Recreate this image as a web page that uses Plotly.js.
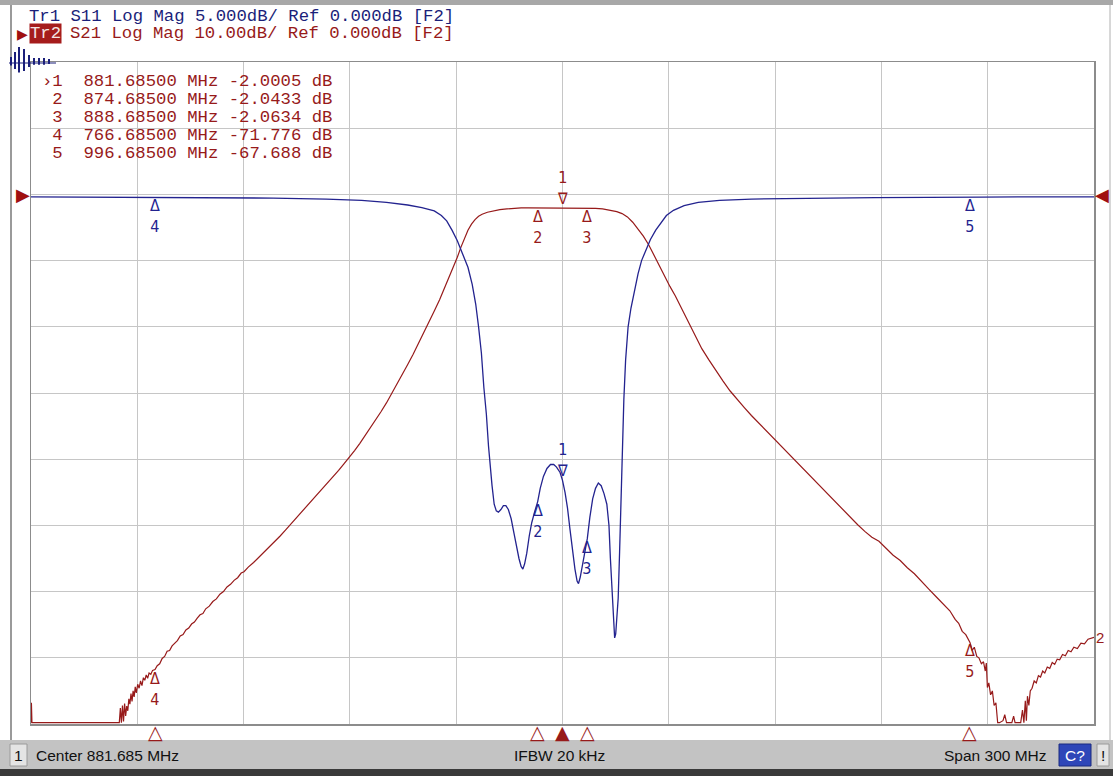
<!DOCTYPE html>
<html>
<head>
<meta charset="utf-8">
<script src="https://cdn.plot.ly/plotly-3.0.1.min.js"></script>
<style>
html,body{margin:0;padding:0;background:#fff;}
#chart{width:1113px;height:776px;}
</style>
</head>
<body>
<div id="chart"></div>
<script>
// ---------------- DATA ----------------
const centerMHz = 881.685;
const spanMHz = 300;
const startMHz = centerMHz - spanMHz / 2;
const stopMHz = centerMHz + spanMHz / 2;

// S21 (Tr2), dB, 10 dB/div
const s21Freq = [731.685,731.8,731.95,756.6,756.9,757.2,757.5,757.8,758.1,758.4,758.7,759.0,759.3,759.6,759.9,760.2,760.5,760.8,761.1,761.4,761.8,762.2,762.6,763.0,763.4,763.8,764.2,764.6,765.0,765.5,766.0,766.685,767.3,768.0,768.7,769.4,770.1,770.8,771.5,772.2,773.0,773.8,774.6,775.4,776.2,777.0,777.8,778.6,779.4,780.2,781.0,782.0,783.0,784.0,785.0,786.0,787.0,788.0,789.0,790.0,791.0,791.8,793.0,794.5,796.0,797.5,799.0,800.5,802.0,803.5,805.0,806.5,808.0,809.5,811.0,812.5,814.0,815.5,817.0,818.5,820.0,821.7,823.0,824.5,826.0,827.5,829.0,830.5,832.0,833.5,835.0,836.5,838.0,839.5,841.0,842.5,844.0,845.5,847.0,848.5,850.0,851.0,852.0,853.0,854.0,855.0,856.0,857.0,858.0,859.0,860.5,862.0,864.0,866.0,868.0,870.0,872.0,874.685,877.0,879.0,881.685,884.0,886.0,888.685,891.0,893.0,895.0,897.0,898.5,900.0,901.5,903.0,904.5,906.0,907.5,909.0,910.5,912.0,913.5,915.0,917.0,919.0,921.0,923.0,925.0,927.0,929.0,931.0,933.0,935.0,937.0,939.0,941.0,943.0,945.0,947.0,949.0,951.0,953.0,955.0,957.0,959.0,961.0,963.0,965.0,967.0,969.0,971.0,973.0,975.0,977.0,979.0,981.0,983.0,985.0,987.0,989.0,991.0,992.5,993.5,994.5,995.5,996.685,997.3,997.9,998.6,999.2,999.9,1000.5,1001.0,1001.3,1001.6,1002.0,1002.5,1003.0,1003.5,1004.0,1004.5,1005.0,1006.0,1006.5,1007.0,1008.5,1009.0,1009.4,1011.0,1011.5,1011.9,1012.3,1012.6,1012.9,1013.3,1013.7,1014.2,1014.8,1015.4,1016.0,1016.6,1017.2,1017.8,1018.5,1019.2,1019.9,1020.6,1021.3,1022.0,1022.8,1023.6,1024.4,1025.2,1026.0,1027.0,1028.0,1029.0,1030.0,1031.685];
const s21dB = [-79.8,-76.8,-79.8,-79.8,-77.6,-79.8,-77.2,-79.6,-76.9,-78.8,-77.3,-78.0,-76.2,-77.0,-75.4,-76.6,-75.0,-75.9,-74.4,-75.3,-74.0,-74.6,-73.5,-74.2,-73.0,-73.4,-72.6,-73.1,-72.3,-72.5,-71.9,-71.78,-71.2,-70.9,-70.1,-69.8,-69.0,-68.9,-68.2,-67.8,-67.4,-66.7,-66.5,-65.8,-65.5,-64.9,-64.6,-64.0,-63.5,-63.3,-62.6,-62.2,-61.5,-61.1,-60.4,-60.0,-59.3,-58.9,-58.3,-57.9,-57.2,-57.0,-56.3,-55.6,-54.8,-54.1,-53.2,-52.5,-51.6,-50.7,-49.8,-48.9,-48.0,-47.2,-46.2,-45.4,-44.4,-43.6,-42.6,-41.7,-40.7,-39.6,-38.7,-37.6,-36.4,-35.3,-34.0,-32.8,-31.5,-30.1,-28.7,-27.2,-25.7,-24.2,-22.6,-21.0,-19.3,-17.6,-15.9,-14.0,-12.2,-11.0,-9.5,-8.0,-6.6,-5.4,-4.5,-3.8,-3.3,-3.0,-2.7,-2.5,-2.3,-2.2,-2.1,-2.05,-2.04,-2.0433,-2.02,-2.0,-2.0005,-2.01,-2.03,-2.0634,-2.1,-2.2,-2.35,-2.6,-2.9,-3.4,-4.2,-5.2,-6.3,-7.6,-9.2,-10.8,-12.3,-13.9,-15.3,-16.9,-19.2,-21.4,-23.3,-25.0,-26.7,-28.2,-29.7,-31.0,-32.2,-33.4,-34.5,-35.6,-36.7,-37.8,-39.0,-40.1,-41.2,-42.3,-43.4,-44.4,-45.6,-46.7,-47.7,-48.8,-49.9,-50.9,-51.8,-52.4,-53.4,-54.5,-55.3,-56.4,-57.3,-58.5,-59.6,-60.7,-61.8,-62.9,-64.2,-64.8,-66.0,-66.5,-67.688,-68.9,-68.4,-69.8,-70.0,-70.9,-70.6,-72.0,-70.8,-74.5,-73.8,-75.6,-75.0,-77.2,-76.8,-79.8,-79.8,-79.5,-78.6,-79.8,-79.8,-78.8,-79.8,-79.8,-77.9,-79.8,-76.5,-79.5,-75.8,-77.2,-75.0,-74.6,-73.5,-73.8,-72.7,-72.9,-72.0,-72.3,-71.4,-71.6,-70.7,-71.0,-70.2,-70.3,-69.5,-69.7,-68.9,-69.1,-68.4,-68.6,-67.8,-67.9,-67.2,-66.9];

// S11 (Tr1), dB, 5 dB/div
const s11Freq = [731.685,760,780,800,815,825,832,838,842,845.5,847.5,849,850.5,852,853.5,855,856.2,857.2,858.0,858.8,859.5,860.2,860.8,861.3,861.8,862.4,863.0,863.6,864.3,865.0,865.7,866.4,867.2,868.0,868.7,869.4,870.0,870.5,871.0,871.6,872.3,873.0,873.8,874.685,875.4,876.3,877.3,878.3,879.2,880.0,881.0,881.685,882.4,883.1,883.8,884.5,885.2,885.8,886.2,886.7,887.3,888.0,888.685,889.4,890.2,891.0,891.8,892.6,893.4,894.2,894.8,895.2,895.6,896.0,896.4,896.7,897.0,897.4,897.8,898.2,898.6,899.0,899.5,900.2,901.0,902.0,903.0,904.0,905.0,906.5,908.0,909.5,911.0,913.0,916.0,920.0,926.0,935.0,950.0,970.0,1000.0,1031.685];
const s11dB = [-0.18,-0.2,-0.22,-0.28,-0.36,-0.45,-0.6,-0.8,-1.0,-1.25,-1.6,-2.0,-2.7,-3.5,-4.5,-5.5,-6.8,-8.3,-10.0,-12.0,-14.6,-16.6,-19.0,-20.6,-22.0,-23.4,-23.9,-24.0,-23.8,-23.5,-23.5,-23.8,-24.5,-25.6,-26.6,-27.5,-28.1,-28.3,-27.9,-27.1,-25.8,-24.8,-24.0,-23.2,-22.2,-21.3,-20.7,-20.4,-20.4,-20.6,-21.0,-21.6,-22.5,-23.7,-25.3,-26.9,-28.3,-29.2,-29.4,-28.9,-28.0,-27.0,-26.0,-24.4,-23.0,-22.2,-21.8,-22.0,-22.6,-23.4,-25.0,-27.5,-29.8,-32.0,-33.5,-33.2,-31.8,-30.5,-27.0,-23.0,-19.0,-15.5,-12.5,-10.0,-8.6,-7.2,-6.0,-5.0,-4.3,-3.4,-2.7,-2.1,-1.6,-1.2,-0.85,-0.6,-0.45,-0.35,-0.28,-0.24,-0.2,-0.18];

// Markers
const markerIds = ["1","2","3","4","5"];
const markerFreq = [881.685, 874.685, 888.685, 766.685, 996.685];
const markerS21 = [-2.0005, -2.0433, -2.0634, -71.776, -67.688];
const markerS11 = [-21.6, -23.2, -26.0, -0.2, -0.22];
const markerTableFreq = ["881.68500","874.68500","888.68500","766.68500","996.68500"];
const markerTableVal = ["-2.0005","-2.0433","-2.0634","-71.776","-67.688"];

const headerTr1 = "Tr1 S11 Log Mag 5.000dB/ Ref 0.000dB [F2]";
const headerTr2 = "S21 Log Mag 10.00dB/ Ref 0.000dB [F2]";
const statusCenter = "Center 881.685 MHz";
const statusIFBW = "IFBW 20 kHz";
const statusSpan = "Span 300 MHz";

// ---------------- STYLE ----------------
const W = 1113, H = 776;
const L = 31, R = 1094, T = 62, B = 724;
const PW = R - L, PH = B - T;
const px = x => (x - L) / PW;
const py = y => (B - y) / PH;
const BLUE = "#23238f";
const RED = "#971a1a";
const NAVY = "#1b1f7a";
const MONO = "Liberation Mono, DejaVu Sans Mono, monospace";
const SANS = "Liberation Sans, Arial, sans-serif";
const SYM = "DejaVu Sans, sans-serif";
const MK = "DejaVu Sans Condensed, DejaVu Sans, sans-serif";
const TXT = 17.3;

const traces = [
  {x: s11Freq, y: s11dB, yaxis: "y2", mode: "lines", line: {color: BLUE, width: 1.3}, hoverinfo: "skip"},
  {x: s21Freq, y: s21dB, yaxis: "y", mode: "lines", line: {color: RED, width: 1.2}, hoverinfo: "skip"}
];

const ann = [];
// header
ann.push({xref: "paper", yref: "paper", x: px(27), y: py(16), xanchor: "left", yanchor: "middle", showarrow: false,
  text: headerTr1, font: {family: MONO, size: TXT, color: NAVY}});
ann.push({xref: "paper", yref: "paper", x: px(29), y: py(34), xanchor: "left", yanchor: "middle", showarrow: false,
  text: "Tr2", bgcolor: "#a51c1c", borderpad: 0, font: {family: MONO, size: TXT, color: "#f4e4e4"}});
ann.push({xref: "paper", yref: "paper", x: px(68), y: py(34), xanchor: "left", yanchor: "middle", showarrow: false,
  text: headerTr2, font: {family: MONO, size: TXT, color: RED}});
ann.push({xref: "paper", yref: "paper", x: px(15), y: py(34), xanchor: "left", yanchor: "middle", showarrow: false,
  text: "▶", font: {family: SYM, size: 14, color: "#a01010"}});

// marker table
const rowY = [82, 99.5, 117, 135, 153];
for (let i = 0; i < markerIds.length; i++) {
  const prefix = (i === 0 ? "›" : " ") + markerIds[i];
  ann.push({xref: "paper", yref: "paper", x: px(40), y: py(rowY[i]), xanchor: "left", yanchor: "middle", showarrow: false,
    text: prefix + "  " + markerTableFreq[i] + " MHz " + markerTableVal[i].padStart(7, " ") + " dB",
    font: {family: MONO, size: TXT, color: RED}});
}

// trace markers
function addMarker(i, val, yref, color) {
  const active = i === 0;
  if (active) {
    ann.push({xref: "x", yref: yref, x: markerFreq[i], y: val, xanchor: "center", yanchor: "bottom", showarrow: false,
      yshift: -2, text: markerIds[i] + "<br>∇", font: {family: MK, size: 16, color: color}});
  } else {
    ann.push({xref: "x", yref: yref, x: markerFreq[i], y: val, xanchor: "center", yanchor: "top", showarrow: false,
      yshift: 3, text: "Δ<br>" + markerIds[i], font: {family: MK, size: 16, color: color}});
  }
}
for (let i = 0; i < markerIds.length; i++) {
  addMarker(i, markerS11[i], "y2", BLUE);
  addMarker(i, markerS21[i], "y", RED);
}
// end-of-trace label
ann.push({xref: "paper", yref: "y", x: 1, y: s21dB[s21dB.length - 1], xanchor: "left", yanchor: "middle", showarrow: false,
  text: "2", font: {family: SANS, size: 15, color: RED}});

// stimulus markers under the grid
for (let i = 0; i < markerIds.length; i++) {
  ann.push({xref: "x", yref: "paper", x: markerFreq[i], y: 0, xanchor: "center", yanchor: "top", showarrow: false,
    yshift: 5, text: i === 0 ? "▲" : "△", font: {family: SYM, size: 19, color: RED}});
}
// reference position triangles
ann.push({xref: "paper", yref: "y", x: 0, y: 0, xanchor: "right", yanchor: "middle", showarrow: false, xshift: 1,
  text: "▶", font: {family: SYM, size: 18, color: "#a01010"}});
ann.push({xref: "paper", yref: "y", x: 1, y: 0, xanchor: "left", yanchor: "middle", showarrow: false, xshift: -1,
  text: "◀", font: {family: SYM, size: 18, color: "#a01010"}});

// status bar text
const ST = {family: SANS, size: 15.5, color: "#111"};
ann.push({xref: "paper", yref: "paper", x: px(18.5), y: py(755), xanchor: "center", yanchor: "middle", showarrow: false, text: "1", font: ST});
ann.push({xref: "paper", yref: "paper", x: px(34), y: py(755), xanchor: "left", yanchor: "middle", showarrow: false, text: statusCenter, font: ST});
ann.push({xref: "paper", yref: "paper", x: px(512), y: py(755), xanchor: "left", yanchor: "middle", showarrow: false, text: statusIFBW, font: ST});
ann.push({xref: "paper", yref: "paper", x: px(1049), y: py(755), xanchor: "right", yanchor: "middle", showarrow: false, text: statusSpan, font: ST});
ann.push({xref: "paper", yref: "paper", x: px(1075), y: py(755), xanchor: "center", yanchor: "middle", showarrow: false,
  text: "C?", font: {family: SANS, size: 15.5, color: "#ffffff"}});
ann.push({xref: "paper", yref: "paper", x: px(1103), y: py(755), xanchor: "center", yanchor: "middle", showarrow: false, text: "!", font: ST});

// decorative shapes (window frame, status bar, icon)
const shapes = [];
function rect(x0, y0, x1, y1, fill, line) {
  shapes.push({type: "rect", xref: "paper", yref: "paper", x0: px(x0), x1: px(x1), y0: py(y1), y1: py(y0),
    fillcolor: fill, line: {width: line ? 1 : 0, color: line || fill}, layer: "below"});
}
function seg(x0, y0, x1, y1, color, w) {
  shapes.push({type: "line", xref: "paper", yref: "paper", x0: px(x0), x1: px(x1), y0: py(y0), y1: py(y1),
    line: {color: color, width: w}, layer: "above"});
}
rect(0, 0, W, 5, "#a8a8a8");
rect(0, 740, W, 769, "#c3c3c3");
rect(0, 769, W, H, "#3a3a3a");
rect(10, 744, 27, 766, "#e4e4e4", "#9a9a9a");
rect(1059, 744, 1091, 766, "#2e46b8", "#1a2a80");
rect(1097, 744, 1109, 766, "#e4e4e4", "#9a9a9a");
seg(11, 5, 11, 740, "#9a9a9a", 2);
seg(1110, 5, 1110, 740, "#b0b0b0", 1);
// waveform icon
const iconX = [11, 15, 19, 24, 29, 34, 39, 44, 49];
const iconH = [5, 10, 15, 13, 7, 4, 4, 4, 3];
for (let k = 0; k < iconX.length; k++) {
  seg(iconX[k], 62 - iconH[k], iconX[k], 62 + iconH[k] * 0.7, NAVY, 2);
}
seg(9, 63, 56, 63, NAVY, 1.2);

const layout = {
  width: W, height: H,
  margin: {l: L, r: W - R, t: T, b: H - B, pad: 0},
  paper_bgcolor: "#ffffff", plot_bgcolor: "#ffffff",
  showlegend: false,
  xaxis: {range: [startMHz, stopMHz], tick0: startMHz, dtick: spanMHz / 10, showticklabels: false, ticks: "",
    showgrid: true, gridcolor: "#c6c6c6", gridwidth: 1, zeroline: false, showline: true, mirror: true,
    linecolor: "#8c8c8c", linewidth: 1.5, fixedrange: true},
  yaxis: {range: [-80, 20], tick0: 0, dtick: 10, showticklabels: false, ticks: "",
    showgrid: true, gridcolor: "#c6c6c6", gridwidth: 1, zeroline: false, showline: true, mirror: true,
    linecolor: "#8c8c8c", linewidth: 1.5, fixedrange: true},
  yaxis2: {range: [-40, 10], overlaying: "y", side: "right", showgrid: false, showticklabels: false, ticks: "",
    zeroline: false, showline: false, fixedrange: true},
  annotations: ann,
  shapes: shapes
};

Plotly.newPlot("chart", traces, layout, {displayModeBar: false, staticPlot: true});
</script>
</body>
</html>
